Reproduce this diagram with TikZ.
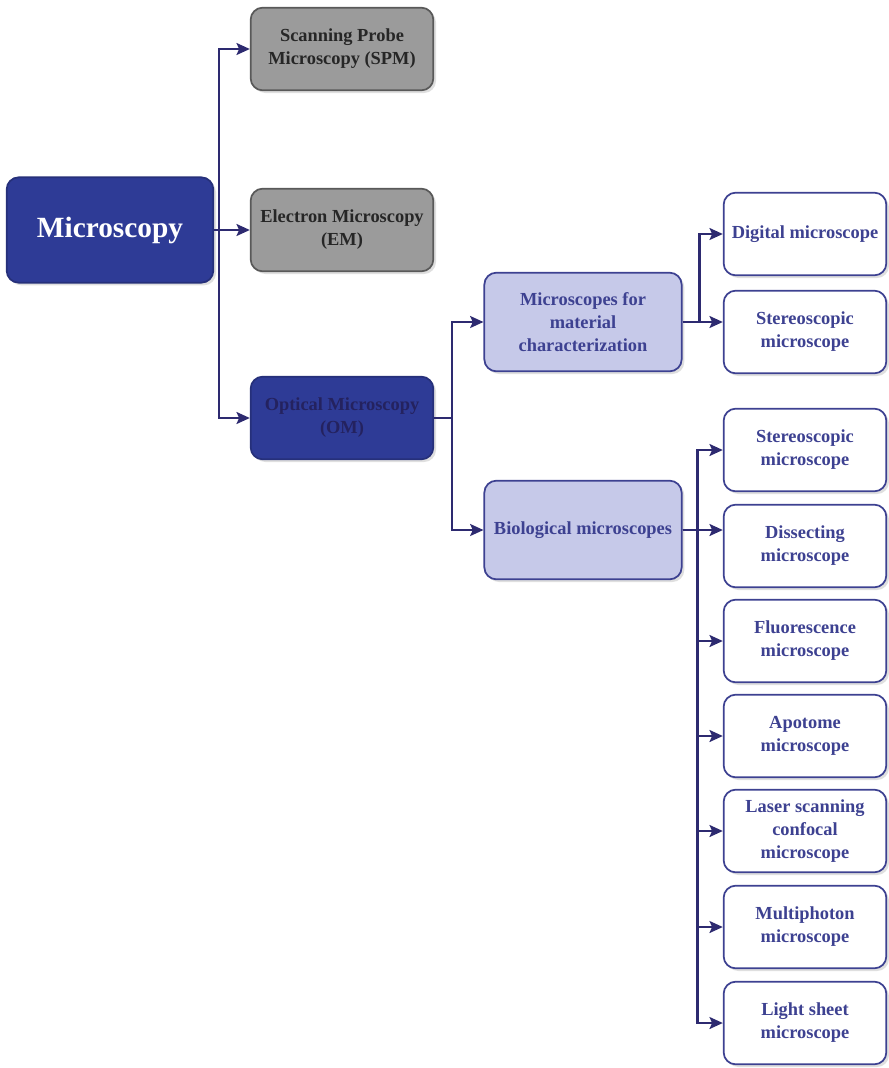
\documentclass[tikz,border=0pt]{standalone}
\usepackage{fontspec}
\setmainfont{Liberation Serif}
\usepackage{tikz}
\usetikzlibrary{arrows.meta,shadows}

\definecolor{navy}{HTML}{2E3B96}
\definecolor{navyedge}{HTML}{26307A}
\definecolor{navytext}{HTML}{24225F}
\definecolor{lilac}{HTML}{C6C9E9}
\definecolor{violetline}{HTML}{3D4191}
\definecolor{greybox}{HTML}{9B9B9B}
\definecolor{arrowcol}{HTML}{2D2A70}

\begin{document}
\begin{tikzpicture}[x=0.75pt,y=-0.75pt,
    box/.style={rounded corners=9pt, line width=1.3pt, align=center,
        font=\fontsize{13.8}{17.2}\selectfont\bfseries,
        drop shadow={shadow xshift=2pt,shadow yshift=-2pt,fill=black!25}},
    rootbox/.style={box, fill=navy, draw=navyedge, text=white,
        minimum width=155pt, minimum height=79pt,
        font=\fontsize{22}{26}\selectfont\bfseries},
    greyclass/.style={box, fill=greybox, draw=black!65, text=black!85,
        minimum width=137pt, minimum height=62pt},
    omclass/.style={box, fill=navy, draw=navyedge, text=navytext,
        minimum width=137pt, minimum height=62pt},
    groupbox/.style={box, fill=lilac, draw=violetline, text=violetline,
        minimum width=148pt, minimum height=74pt},
    leafbox/.style={box, fill=white, draw=violetline, text=violetline,
        minimum width=122pt, minimum height=62pt},
    arr/.style={draw=arrowcol, line width=1.6pt,
        -{Stealth[length=10pt,width=9pt,inset=2pt]}}]
    \useasboundingbox (0,0) rectangle (889,1068);
        % main classes
        \node[rootbox] (A) at (110,230) {Microscopy};
        \node[greyclass] (B) at (342,49) {Scanning Probe\\Microscopy (SPM)};
        \node[greyclass] (C) at (342,230) {Electron Microscopy\\(EM)};
        \node[omclass] (D) at (342,418) {Optical Microscopy\\(OM)};
        % optical groups
        \node[groupbox] (E) at (583,322) {Microscopes for\\material\\characterization};
        \node[groupbox] (F) at (583,530) {Biological microscopes};
        % material
        \node[leafbox] (G) at (805,234) {Digital microscope};
        \node[leafbox] (H) at (805,332) {Stereoscopic\\microscope};
        % biological
        \node[leafbox] (I) at (805,450) {Stereoscopic\\microscope};
        \node[leafbox] (J) at (805,546) {Dissecting\\microscope};
        \node[leafbox] (K) at (805,641) {Fluorescence\\microscope};
        \node[leafbox] (L) at (805,736) {Apotome\\microscope};
        \node[leafbox] (M) at (805,831) {Laser scanning\\confocal\\microscope};
        \node[leafbox] (N) at (805,927) {Multiphoton\\microscope};
        \node[leafbox] (O) at (805,1023) {Light sheet\\microscope};
        \draw[arr] (A.east) -- ++(5,0) |- (B);
        \draw[arr] (A.east) -- (C);
        \draw[arr] (A.east) -- ++(5,0) |- (D);
        \draw[arr] (D.east) -- ++(18,0) |- (E);
        \draw[arr] (D.east) -- ++(18,0) |- (F);
        \draw[arr] (E.east) -- ++(17,0) |- (G);
        \draw[arr] (E.east) -- (H.west |- E.east);
        \draw[arr] (F.east) -- (J.west |- F.east);
        \foreach \leaf in {I,K,L,M,N,O}
            \draw[arr] (F.east) -- ++(15,0) |- (\leaf);
    \end{tikzpicture}
\end{document}
